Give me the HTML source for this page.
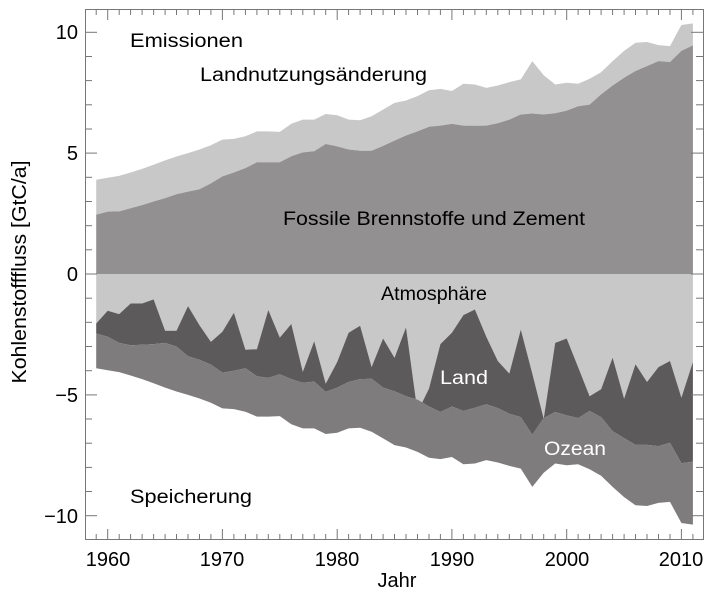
<!DOCTYPE html>
<html><head><meta charset="utf-8"><style>
html,body{margin:0;padding:0;background:#fff;}
svg{display:block;font-family:"Liberation Sans",sans-serif;}
</style></head><body>
<svg id="s" width="714" height="600" viewBox="0 0 714 600" xmlns="http://www.w3.org/2000/svg">
<g id="areas"></g>
<g id="ticks" stroke="#777" stroke-width="1"></g>
<rect x="85.5" y="9.5" width="618" height="530" fill="none" stroke="#777" stroke-width="1"/>
<g font-size="20" fill="#000" text-anchor="end">
<text x="78" y="39">10</text>
<text x="78" y="160">5</text>
<text x="78" y="281">0</text>
<text x="78" y="402">−5</text>
<text x="78" y="523">−10</text>
</g>
<g font-size="20" fill="#000" text-anchor="middle">
<text x="108" y="566">1960</text>
<text x="222" y="566">1970</text>
<text x="337" y="566">1980</text>
<text x="452" y="566">1990</text>
<text x="567" y="566">2000</text>
<text x="681" y="566">2010</text>
<text x="397" y="587">Jahr</text>
<text transform="translate(26,272) rotate(-90)" textLength="223" lengthAdjust="spacingAndGlyphs">Kohlenstofffluss [GtC/a]</text>
</g>
<g font-size="19" fill="#000">
<text x="130" y="47" textLength="113" lengthAdjust="spacingAndGlyphs">Emissionen</text>
<text x="200" y="81" textLength="227" lengthAdjust="spacingAndGlyphs">Landnutzungsänderung</text>
<text x="283" y="225" textLength="302" lengthAdjust="spacingAndGlyphs">Fossile Brennstoffe und Zement</text>
<text x="381" y="300" textLength="106" lengthAdjust="spacingAndGlyphs">Atmosphäre</text>
<text x="130" y="503" textLength="122" lengthAdjust="spacingAndGlyphs">Speicherung</text>
<text x="440" y="384" fill="#fff" textLength="48" lengthAdjust="spacingAndGlyphs">Land</text>
<text x="544" y="455" fill="#fff" textLength="62" lengthAdjust="spacingAndGlyphs">Ozean</text>
</g>
</svg>
<script>
var tot=[3.9,3.98,4.06,4.2,4.35,4.52,4.7,4.86,5.0,5.15,5.33,5.56,5.59,5.7,5.9,5.9,5.88,6.22,6.39,6.39,6.62,6.57,6.39,6.36,6.53,6.8,7.08,7.18,7.36,7.6,7.66,7.57,7.87,7.84,7.7,7.8,7.94,8.05,8.81,8.22,7.84,7.91,7.87,8.08,8.35,8.81,9.23,9.57,9.6,9.47,9.43,10.3,10.37];
var fos=[2.45,2.58,2.59,2.72,2.85,3.0,3.14,3.3,3.41,3.51,3.75,4.04,4.2,4.38,4.62,4.62,4.62,4.87,5.03,5.08,5.38,5.28,5.15,5.1,5.1,5.3,5.52,5.73,5.9,6.09,6.14,6.21,6.14,6.13,6.14,6.24,6.39,6.6,6.64,6.6,6.65,6.76,6.94,7.01,7.43,7.8,8.12,8.4,8.6,8.81,8.77,9.23,9.46];
var atm=[-2.05,-1.52,-1.66,-1.22,-1.22,-1.05,-2.35,-2.35,-1.33,-2.12,-2.81,-2.39,-1.6,-3.13,-3.11,-1.49,-2.63,-2.07,-4.05,-2.78,-4.54,-3.64,-2.43,-2.14,-3.85,-2.67,-3.47,-2.21,-5.71,-4.74,-2.9,-2.43,-1.7,-1.47,-2.6,-3.6,-4.12,-2.3,-4.12,-5.99,-2.85,-2.67,-3.85,-5.06,-4.77,-3.46,-5.16,-3.73,-4.47,-3.85,-3.6,-5.12,-3.64];
var ocn=[-2.46,-2.6,-2.85,-2.95,-2.93,-2.9,-2.85,-3.0,-3.4,-3.55,-3.75,-4.08,-4.0,-3.9,-4.23,-4.3,-4.15,-4.35,-4.5,-4.45,-4.88,-4.7,-4.47,-4.35,-4.33,-4.7,-4.85,-5.06,-5.2,-5.48,-5.71,-5.48,-5.67,-5.53,-5.39,-5.55,-5.78,-5.92,-6.65,-5.96,-5.71,-5.85,-5.96,-5.67,-5.92,-6.5,-6.79,-7.07,-7.07,-7.12,-6.98,-7.83,-7.76];
function X(i){return 96.2+11.475*i;}
function Y(v){return 274-24.17*v;}
var n=tot.length;
function band(top,bot,col){
 var p=[];for(var i=0;i<n;i++)p.push(X(i).toFixed(1)+','+Y(top[i]).toFixed(1));
 for(var i=n-1;i>=0;i--)p.push(X(i).toFixed(1)+','+Y(bot[i]).toFixed(1));
 return '<polygon points="'+p.join(' ')+'" fill="'+col+'"/>';
}
var z=[],nt=[];for(var i=0;i<n;i++){z.push(0);nt.push(-tot[i]);}
var h='';
h+=band(tot,fos,'#c8c8c8');
h+=band(fos,z,'#929091');
h+=band(z,atm,'#c8c8c8');
h+=band(atm,ocn,'#5d5a5b');
h+=band(ocn,nt,'#7f7c7d');
document.getElementById('areas').innerHTML=h;
var t='';
for(var yr=1959;yr<=2011;yr++){var x=X(yr-1959).toFixed(1);var L=(yr%10==0)?10:5;
 t+='<line x1="'+x+'" y1="539" x2="'+x+'" y2="'+(539-L)+'"/>';
 t+='<line x1="'+x+'" y1="10" x2="'+x+'" y2="'+(10+L)+'"/>';}
for(var v=-11;v<=10;v++){var y=Y(v);if(y<10||y>539)continue;y=y.toFixed(1);var L=(v%5==0)?12:7;
 t+='<line x1="85" y1="'+y+'" x2="'+(85+L)+'" y2="'+y+'"/>';
 t+='<line x1="703" y1="'+y+'" x2="'+(703-L)+'" y2="'+y+'"/>';}
document.getElementById('ticks').innerHTML=t;
</script>
</body></html>
